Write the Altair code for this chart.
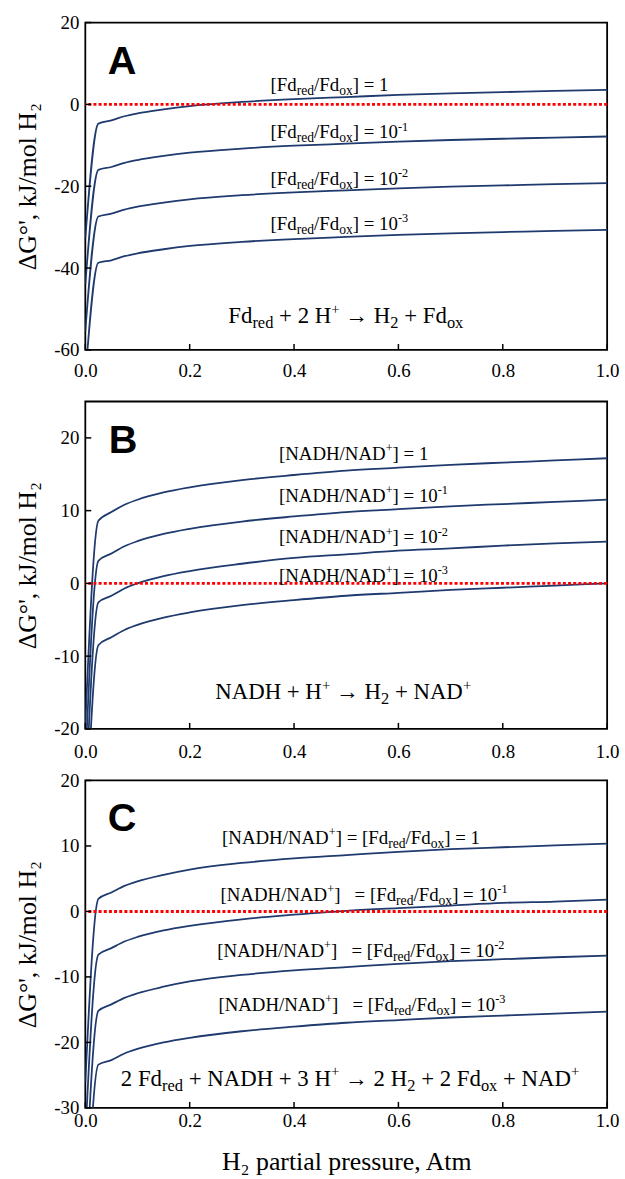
import altair as alt
import pandas as pd

# ---------------- data ----------------
x_h2 = [0.0, 0.025, 0.05, 0.075, 0.1, 0.15, 0.2, 0.3, 0.4, 0.5, 0.6, 0.7, 0.8, 0.9, 1.0]

# Panel A: Fd_red + 2H+ -> H2 + Fd_ox
a_fd_1 = [-32.7, -4.7, -3.9, -2.9, -2.2, -1.2, -0.4, 0.6, 1.3, 1.8, 2.3, 2.7, 3.0, 3.3, 3.55]
a_fd_1e1 = [-44.0, -16.0, -15.3, -14.3, -13.6, -12.6, -11.8, -10.8, -10.1, -9.6, -9.1, -8.7, -8.4, -8.1, -7.85]
a_fd_1e2 = [-55.4, -27.4, -26.7, -25.7, -25.0, -24.0, -23.2, -22.2, -21.5, -21.0, -20.5, -20.1, -19.8, -19.5, -19.25]
a_fd_1e3 = [-66.7, -38.7, -38.1, -37.1, -36.4, -35.4, -34.6, -33.6, -32.9, -32.4, -31.9, -31.5, -31.2, -30.9, -30.65]

# Panel B: NADH + H+ -> H2 + NAD+
b_nad_1 = [-19.4, 8.6, 9.8, 10.8, 11.5, 12.5, 13.2, 14.2, 14.9, 15.5, 15.9, 16.3, 16.6, 16.9, 17.2]
b_nad_1e1 = [-24.9, 3.1, 4.1, 5.1, 5.8, 6.8, 7.5, 8.5, 9.2, 9.8, 10.2, 10.6, 10.9, 11.2, 11.5]
b_nad_1e2 = [-30.6, -2.6, -1.7, -0.7, 0.0, 1.0, 1.7, 2.7, 3.5, 4.0, 4.5, 4.8, 5.2, 5.5, 5.75]
b_nad_1e3 = [-36.5, -8.5, -7.4, -6.4, -5.7, -4.7, -4.0, -3.0, -2.3, -1.7, -1.3, -0.9, -0.6, -0.3, 0.0]

# Panel C: 2 Fd_red + NADH + 3H+ -> 2H2 + 2Fd_ox + NAD+
c_both_1 = [-26.1, 1.9, 2.9, 3.9, 4.6, 5.6, 6.4, 7.4, 8.1, 8.6, 9.1, 9.5, 9.8, 10.1, 10.35]
c_both_1e1 = [-34.6, -6.6, -5.6, -4.6, -3.9, -2.9, -2.2, -1.2, -0.5, 0.1, 0.5, 0.9, 1.3, 1.5, 1.8]
c_both_1e2 = [-43.2, -15.2, -14.2, -13.2, -12.5, -11.5, -10.7, -9.7, -9.0, -8.5, -8.0, -7.6, -7.3, -7.0, -6.75]
c_both_1e3 = [-51.4, -23.4, -22.7, -21.7, -21.0, -20.0, -19.3, -18.3, -17.6, -17.0, -16.6, -16.2, -15.9, -15.6, -15.3]

x_ticks = [0.0, 0.2, 0.4, 0.6, 0.8, 1.0]
a_yticks = [-60, -40, -20, 0, 20]
b_yticks = [-20, -10, 0, 10, 20]
c_yticks = [-30, -20, -10, 0, 10, 20]
a_ydomain = [-60, 20]
b_ydomain = [-20, 25]
c_ydomain = [-30, 20]

# ---------------- styling ----------------
W, H = 526, 330
SERIF = "Liberation Serif"
NAVY = "#1F3A6E"
Y_TITLE = "\u0394G\u00b0', kJ/mol H\u2082"

TIMES_W = {' ': 250, '\u00a0': 250, '+': 564, '-': 333, '/': 278, '=': 564, '[': 333, ']': 333,
           '\u2192': 1000, '0': 500, '1': 500, '2': 500, '3': 500, 'A': 722, 'D': 722, 'F': 556,
           'H': 722, 'N': 722, 'd': 500, 'e': 444, 'o': 500, 'r': 333, 'x': 500}


def text_width(s, size):
    return sum(TIMES_W.get(c, 500) for c in s) * size / 1000.0


def build_text(segs, x0, y0, size, ydom):
    ppu = H / (ydom[1] - ydom[0])
    rows = []
    cur = 0.0
    for txt, kind in segs:
        if kind == 'n':
            s, dy = size, 0.0
        elif kind == 'sub':
            s, dy = size * 0.72, size * 0.22
        else:
            s, dy = size * 0.65, -size * 0.40
        lead = len(txt) - len(txt.lstrip(' '))
        core = txt.strip(' ')
        trail = len(txt) - len(txt.rstrip(' '))
        cur += lead * 250 * s / 1000.0
        rows.append({'x': x0 + cur / W, 'y': y0 - dy / ppu, 'text': core, 'size': s})
        cur += text_width(core, s) + trail * 250 * s / 1000.0
    return rows


def fd_label(power):
    segs = [("[Fd", 'n'), ("red", 'sub'), ("/Fd", 'n'), ("ox", 'sub')]
    if power == 0:
        segs.append(("] = 1", 'n'))
    else:
        segs += [("] = 10", 'n'), ("-%d" % power, 'sup')]
    return segs


def nad_label(power):
    segs = [("[NADH/NAD", 'n'), ("+", 'sup')]
    if power == 0:
        segs.append(("] = 1", 'n'))
    else:
        segs += [("] = 10", 'n'), ("-%d" % power, 'sup')]
    return segs


def both_label(power):
    segs = [("[NADH/NAD", 'n'), ("+", 'sup')]
    if power == 0:
        segs.append(("] = [Fd", 'n'))
    else:
        segs += [("]", 'n'), ("   = [Fd", 'n')]
    segs += [("red", 'sub'), ("/Fd", 'n'), ("ox", 'sub')]
    if power == 0:
        segs.append(("] = 1", 'n'))
    else:
        segs += [("] = 10", 'n'), ("-%d" % power, 'sup')]
    return segs


def panel(curves, ydom, yticks, letter, letter_xy, text_rows, x_label_pad, x_title=None):
    xs = alt.Scale(domain=[0, 1], nice=False, zero=False)
    ys = alt.Scale(domain=ydom, nice=False, zero=False)
    rows = []
    for name, vals in curves:
        for xv, yv in zip(x_h2, vals):
            rows.append({'x': xv, 'y': yv, 'series': name})
    df = pd.DataFrame(rows)

    xaxis_kw = dict(values=x_ticks, format='.1f', labelFont=SERIF, labelFontSize=19,
                    labelColor='black', labelPadding=x_label_pad, ticks=False, domain=False,
                    grid=False, labelFlush=False)
    if x_title:
        xaxis_kw.update(title=x_title, titleFont=SERIF, titleFontSize=26, titleFontWeight='normal',
                        titleColor='black', titlePadding=18)
    else:
        xaxis_kw.update(title='')

    lines = alt.Chart(df).mark_line(clip=True, strokeWidth=1.8, color=NAVY,
                                    interpolate='monotone').encode(
        x=alt.X('x:Q', scale=xs, axis=alt.Axis(**xaxis_kw)),
        y=alt.Y('y:Q', scale=ys, axis=alt.Axis(
            values=yticks, labelExpr="toString(datum.value)", labelFont=SERIF, labelFontSize=19,
            labelColor='black', labelPadding=6.5, ticks=False, domain=False, grid=False,
            labelFlush=False,
            title=Y_TITLE, titleFont=SERIF, titleFontSize=26, titleFontWeight='normal',
            titleColor='black', titlePadding=13)),
        detail='series:N')

    zero = alt.Chart(pd.DataFrame({'y': [0]})).mark_rule(
        color='#FF0000', strokeWidth=3, strokeDash=[3, 2.2]).encode(
        y=alt.Y('y:Q', scale=ys))

    xt = alt.Chart(pd.DataFrame({'x': x_ticks})).mark_rule(color='black', strokeWidth=1.5).encode(
        x=alt.X('x:Q', scale=xs), y=alt.value(H), y2=alt.value(H - 6))
    yt = alt.Chart(pd.DataFrame({'y': yticks})).mark_rule(color='black', strokeWidth=1.5).encode(
        y=alt.Y('y:Q', scale=ys), x=alt.value(0), x2=alt.value(6))

    txt = alt.Chart(pd.DataFrame(text_rows)).mark_text(
        align='left', baseline='alphabetic', font=SERIF, color='black').encode(
        x=alt.X('x:Q', scale=xs), y=alt.Y('y:Q', scale=ys),
        text='text:N', size=alt.Size('size:Q', scale=None))

    let = alt.Chart(pd.DataFrame({'x': [letter_xy[0]], 'y': [letter_xy[1]], 't': [letter]})).mark_text(
        align='left', baseline='alphabetic', font='Liberation Sans', fontWeight='bold',
        fontSize=40, color='black').encode(
        x=alt.X('x:Q', scale=xs), y=alt.Y('y:Q', scale=ys), text='t:N')

    return alt.layer(lines, zero, xt, yt, txt, let).properties(width=W, height=H)


# ---------------- text annotations ----------------
LS = 19   # label size
RS = 23   # reaction size

a_text = []
for p, yb in zip([0, 1, 2, 3], [3.3, -8.3, -19.7, -30.6]):
    a_text += build_text(fd_label(p), 0.355, yb, LS, a_ydomain)
a_text += build_text([("Fd", 'n'), ("red", 'sub'), (" + 2 H", 'n'), ("+", 'sup'),
                      (" \u2192 H", 'n'), ("2", 'sub'), (" + Fd", 'n'), ("ox", 'sub')],
                     0.274, -53.5, RS, a_ydomain)

b_text = []
for p, yb in zip([0, 1, 2, 3], [17.0, 11.2, 5.5, 0.2]):
    b_text += build_text(nad_label(p), 0.371, yb, LS, b_ydomain)
b_text += build_text([("NADH + H", 'n'), ("+", 'sup'), (" \u2192 H", 'n'), ("2", 'sub'),
                      (" + NAD", 'n'), ("+", 'sup')],
                     0.249, -15.9, RS, b_ydomain)

c_text = []
for p, xb, yb in zip([0, 1, 2, 3], [0.262, 0.259, 0.253, 0.255], [10.3, 1.6, -6.9, -15.2]):
    c_text += build_text(both_label(p), xb, yb, LS, c_ydomain)
c_text += build_text([("2 Fd", 'n'), ("red", 'sub'), (" + NADH + 3 H", 'n'), ("+", 'sup'),
                      (" \u2192 2 H", 'n'), ("2", 'sub'), (" + 2 Fd", 'n'), ("ox", 'sub'),
                      (" + NAD", 'n'), ("+", 'sup')],
                     0.068, -26.6, RS, c_ydomain)

pA = panel([('1', a_fd_1), ('1e-1', a_fd_1e1), ('1e-2', a_fd_1e2), ('1e-3', a_fd_1e3)],
           a_ydomain, a_yticks, 'A', (0.043, 7.4), a_text, 12)
pB = panel([('1', b_nad_1), ('1e-1', b_nad_1e1), ('1e-2', b_nad_1e2), ('1e-3', b_nad_1e3)],
           b_ydomain, b_yticks, 'B', (0.045, 17.9), b_text, 14)
pC = panel([('1', c_both_1), ('1e-1', c_both_1e1), ('1e-2', c_both_1e2), ('1e-3', c_both_1e3)],
           c_ydomain, c_yticks, 'C', (0.043, 12.3), c_text, 4,
           x_title="H\u2082 partial pressure, Atm")

chart = alt.vconcat(pA, pB, pC, spacing=52, bounds='flush').properties(
    padding={'left': 14, 'top': 8, 'right': 5, 'bottom': 0},
    background='white'
).configure_view(stroke='black', strokeWidth=1.8)

chart.save("out.html", embed_options={"renderer": "svg", "actions": False})
